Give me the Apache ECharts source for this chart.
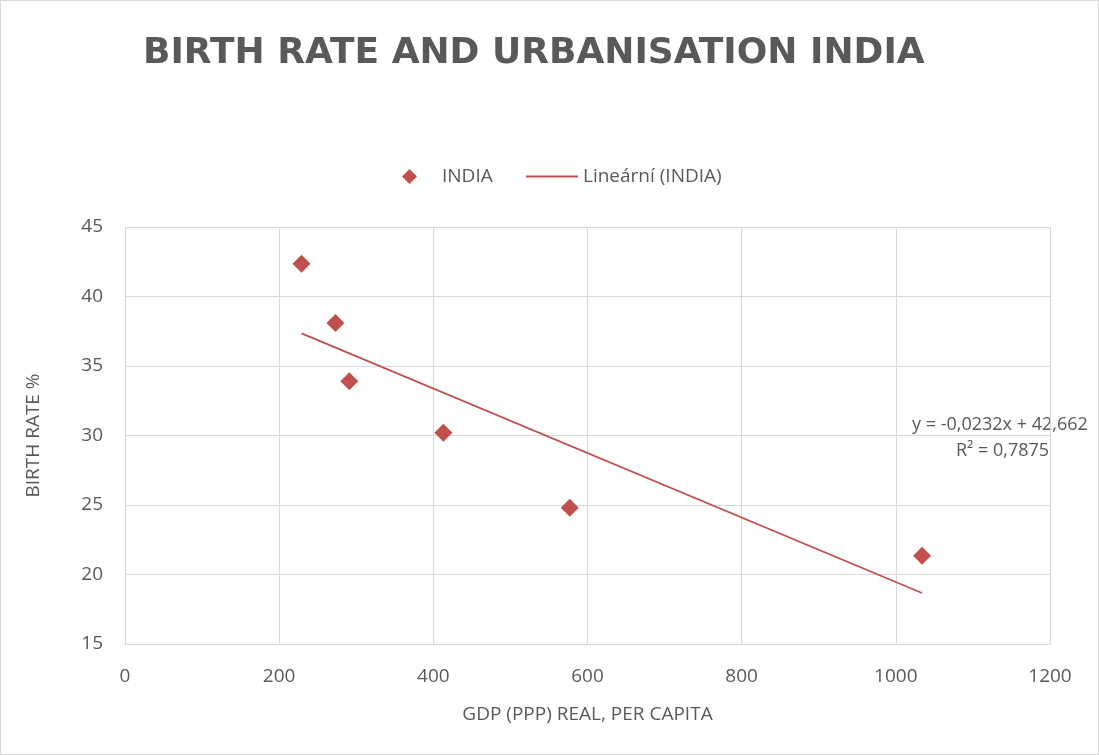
<!DOCTYPE html>
<html><head><meta charset="utf-8">
<script src="https://cdn.jsdelivr.net/npm/echarts@6/dist/echarts.min.js"></script>
<style>
html,body{margin:0;padding:0;background:#fff;}
#c{width:1097px;height:753px;border:1px solid #d9d9d9;}
</style></head>
<body><div id="c"></div>
<script>
const gdp = [229, 273, 291, 413, 577, 1034];
const birthRate = [42.35, 38.1, 33.9, 30.2, 24.8, 21.35];
const trendSlope = -0.0232;
const trendIntercept = 42.662;
const xTicks = [0, 200, 400, 600, 800, 1000, 1200];
const yTicks = [15, 20, 25, 30, 35, 40, 45];

const pts = gdp.map((x, i) => [x, birthRate[i]]);
const xMin = Math.min(...gdp), xMax = Math.max(...gdp);
const trend = [[xMin, trendSlope * xMin + trendIntercept], [xMax, trendSlope * xMax + trendIntercept]];
const C = '#C0504D', T = '#595959', F = 'Open Sans, sans-serif';

const chart = echarts.init(document.getElementById('c'));
chart.setOption({
  animation: false,
  title: {
    text: 'BIRTH RATE AND URBANISATION INDIA',
    left: 142, top: 35, padding: 0,
    textStyle: { fontFamily: 'DejaVu Sans', fontWeight: 'bold', fontSize: 36, color: T }
  },
  legend: [
    {
      top: 166, left: 401, padding: 0,
      itemWidth: 15, itemHeight: 15,
      textStyle: { fontFamily: F, fontSize: 19, color: T, padding: [0, 0, 0, 20] },
      data: [{ name: 'INDIA', icon: 'diamond', itemStyle: { color: C, opacity: 1 } }]
    },
    {
      top: 166, left: 525, padding: 0,
      itemWidth: 52, itemHeight: 2,
      textStyle: { fontFamily: F, fontSize: 19, color: T },
      data: [{ name: 'Lineární (INDIA)', icon: 'rect', itemStyle: { color: C } }]
    }
  ],
  grid: { left: 124, right: 48, top: 226, bottom: 110 },
  xAxis: {
    type: 'value', min: xTicks[0], max: xTicks[xTicks.length - 1], interval: 200,
    name: 'GDP (PPP) REAL, PER CAPITA', nameLocation: 'middle', nameGap: 61,
    nameTextStyle: { fontFamily: F, fontSize: 19, color: T },
    axisLine: { show: true, lineStyle: { color: '#d9d9d9' } },
    axisTick: { show: false },
    axisLabel: { fontFamily: F, fontSize: 19, color: T, margin: 23, formatter: v => String(v) },
    splitLine: { show: true, lineStyle: { color: '#d9d9d9' } }
  },
  yAxis: {
    type: 'value', min: yTicks[0], max: yTicks[yTicks.length - 1], interval: 5,
    name: 'BIRTH RATE %', nameLocation: 'middle', nameGap: 82,
    nameTextStyle: { fontFamily: F, fontSize: 19, color: T },
    axisLine: { show: false },
    axisTick: { show: false },
    axisLabel: { fontFamily: F, fontSize: 19, color: T, margin: 22 },
    splitLine: { show: true, lineStyle: { color: '#d9d9d9' } }
  },
  series: [
    {
      name: 'INDIA', type: 'scatter', data: pts,
      symbol: 'diamond', symbolSize: [18, 18],
      itemStyle: { color: C, opacity: 1 }
    },
    {
      name: 'Lineární (INDIA)', type: 'line', data: trend,
      symbol: 'none', lineStyle: { color: C, width: 1.75 }, itemStyle: { color: C }
    }
  ],
  graphic: [
    { type: 'text', left: 911, top: 415,
      style: { text: 'y = -0,0232x + 42,662', fontFamily: F, fontSize: 18, fill: T } },
    { type: 'text', left: 955, top: 441,
      style: { text: 'R² = 0,7875', fontFamily: F, fontSize: 18, fill: T } }
  ]
});
</script></body></html>
